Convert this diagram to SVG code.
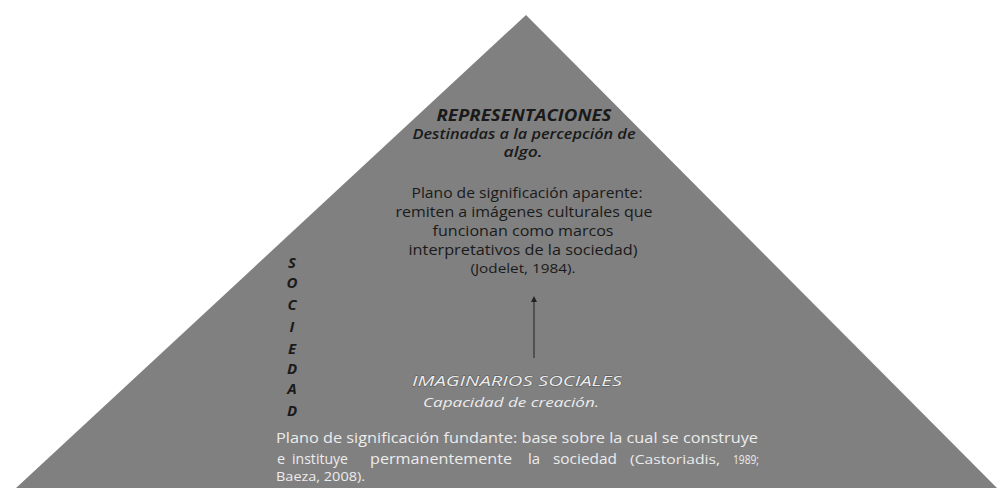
<svg xmlns="http://www.w3.org/2000/svg" width="997" height="488" viewBox="0 0 997 488">
  <style>
    .dark { font-family: "Open Sans", "Liberation Sans", sans-serif; fill: #1a1a1a; }
    .light { font-family: "Open Sans", "Liberation Sans", sans-serif; fill: #ececec; }
    .emb { stroke: #555555; stroke-width: 0.8; paint-order: stroke; }
    .c { text-anchor: middle; }
    .soc { font-size: 15px; font-weight: bold; font-style: italic; }
  </style>
  <defs>
    <marker id="ah" markerWidth="6" markerHeight="6" refX="3" refY="3" orient="auto" markerUnits="userSpaceOnUse">
      <path d="M0,0 L6,3 L0,6 Z" fill="#222"/>
    </marker>
  </defs>
  <rect width="997" height="488" fill="#ffffff"/>
  <g id="pyramid">
    <polygon points="526,15 997,488 16,488" fill="#808080"/>
  </g>
  <g id="connectors">
    <line x1="534" y1="358" x2="534" y2="299" stroke="#333" stroke-width="1.2" marker-end="url(#ah)"/>
  </g>
  <g id="representaciones">
    <text class="dark c" x="524" y="121" font-size="15.5" font-weight="bold" font-style="italic" textLength="175" lengthAdjust="spacingAndGlyphs">REPRESENTACIONES</text>
    <text class="dark c" x="524" y="139" font-size="14.5" font-weight="600" font-style="italic" textLength="223" lengthAdjust="spacingAndGlyphs">Destinadas a la percepción de</text>
    <text class="dark c" x="523" y="157" font-size="14.5" font-weight="600" font-style="italic" textLength="39" lengthAdjust="spacingAndGlyphs">algo.</text>
    <text class="dark c" x="527" y="198" font-size="14.5" textLength="231" lengthAdjust="spacingAndGlyphs">Plano de significación aparente:</text>
    <text class="dark c" x="524" y="217" font-size="14.5" textLength="257" lengthAdjust="spacingAndGlyphs">remiten a imágenes culturales que</text>
    <text class="dark c" x="523" y="236" font-size="14.5" textLength="181" lengthAdjust="spacingAndGlyphs">funcionan como marcos</text>
    <text class="dark c" x="523" y="255" font-size="14.5" textLength="229" lengthAdjust="spacingAndGlyphs">interpretativos de la sociedad)</text>
    <text class="dark c" x="523" y="273" font-size="12" textLength="105" lengthAdjust="spacingAndGlyphs">(Jodelet, 1984).</text>
  </g>
  <g id="sociedad">
    <text class="dark c soc" x="292" y="268">S</text>
    <text class="dark c soc" x="292" y="288">O</text>
    <text class="dark c soc" x="292" y="310">C</text>
    <text class="dark c soc" x="292" y="332">I</text>
    <text class="dark c soc" x="292" y="354">E</text>
    <text class="dark c soc" x="292" y="374">D</text>
    <text class="dark c soc" x="292" y="394">A</text>
    <text class="dark c soc" x="292" y="416">D</text>
  </g>
  <g id="imaginarios">
    <text class="light emb c" x="517" y="386" font-size="15" font-style="italic" textLength="210" lengthAdjust="spacingAndGlyphs">IMAGINARIOS SOCIALES</text>
    <text class="light c" x="511" y="407" font-size="13.5" font-style="italic" textLength="176" lengthAdjust="spacingAndGlyphs">Capacidad de creación.</text>
  </g>
  <g id="fundante">
    <text class="light" x="276" y="443" font-size="14.5" textLength="482" lengthAdjust="spacingAndGlyphs">Plano de significación fundante: base sobre la cual se construye</text>
    <text class="light" x="277" y="464" font-size="14.5">e</text>
    <text class="light" x="292" y="464" font-size="14.5" textLength="56" lengthAdjust="spacingAndGlyphs">instituye</text>
    <text class="light" x="370" y="464" font-size="14.5" textLength="142" lengthAdjust="spacingAndGlyphs">permanentemente</text>
    <text class="light" x="528" y="464" font-size="14.5" textLength="12" lengthAdjust="spacingAndGlyphs">la</text>
    <text class="light" x="553" y="464" font-size="14.5" textLength="64" lengthAdjust="spacingAndGlyphs">sociedad</text>
    <text class="light" x="630" y="464" font-size="12" textLength="90" lengthAdjust="spacingAndGlyphs">(Castoriadis,</text>
    <text class="light" x="733" y="464" font-size="12" textLength="26" lengthAdjust="spacingAndGlyphs">1989;</text>
    <text class="light" x="276" y="481" font-size="12" textLength="89" lengthAdjust="spacingAndGlyphs">Baeza, 2008).</text>
  </g>
</svg>
